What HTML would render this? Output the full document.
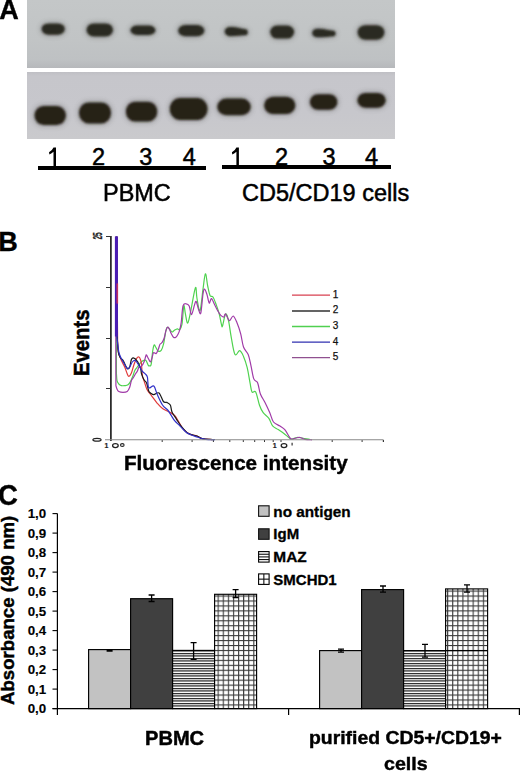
<!DOCTYPE html>
<html><head><meta charset="utf-8">
<style>
html,body{margin:0;padding:0;background:#fff;}
body{width:520px;height:771px;position:relative;overflow:hidden;font-family:"Liberation Sans",sans-serif;color:#000;}
.a{position:absolute;white-space:nowrap;line-height:1;}
.blot{position:absolute;left:27.2px;width:367.4px;}
</style></head><body>

<div class="blot" style="top:0;height:67.7px;background:linear-gradient(to bottom,#c4c7c8 0%,#c1c4c5 60%,#bec1c3 88%,#b6b8bb 100%);"></div>
<div class="blot" style="top:71.6px;height:67.6px;background:linear-gradient(to bottom,#bfbfc4 0%,#c6c6cb 6%,#c7c7cc 60%,#cacacd 100%);"></div>
<svg style="position:absolute;left:0;top:0" width="400" height="140" viewBox="0 0 400 140"><defs><filter id="bb" x="-20%" y="-40%" width="140%" height="180%"><feGaussianBlur stdDeviation="1.2"/></filter><filter id="bh" x="-30%" y="-60%" width="160%" height="220%"><feGaussianBlur stdDeviation="2.5"/></filter></defs><g fill="#3a3a36" opacity="0.3" filter="url(#bh)"><rect x="40.10" y="21.90" width="26.20" height="14.30" rx="7.86" ry="7.15"/><rect x="85.00" y="21.90" width="29.50" height="16.00" rx="8.26" ry="8.00"/><rect x="129.00" y="24.10" width="27.90" height="12.40" rx="8.20" ry="6.20"/><rect x="176.70" y="23.50" width="29.10" height="14.20" rx="8.15" ry="7.10"/><path d="M230.52,25.50 C237.35,25.50 242.18,28.06 244.18,28.06 A5.12,4.27 0 0 1 244.18,36.60 C242.18,36.60 237.35,37.70 230.52,37.70 A7.32,6.10 0 0 1 230.52,25.50 Z"/><rect x="268.70" y="24.10" width="26.90" height="16.00" rx="8.07" ry="8.00"/><path d="M317.60,27.20 C324.94,27.20 330.27,29.61 332.27,29.61 A4.83,4.02 0 0 1 332.27,37.66 C330.27,37.66 324.94,38.70 317.60,38.70 A6.90,5.75 0 0 1 317.60,27.20 Z"/><rect x="356.10" y="23.70" width="29.80" height="17.60" rx="8.94" ry="8.80"/><rect x="33.00" y="104.50" width="34.40" height="21.90" rx="10.32" ry="10.95"/><rect x="77.50" y="101.00" width="35.00" height="23.90" rx="10.50" ry="11.95"/><rect x="124.40" y="100.20" width="34.30" height="22.90" rx="10.29" ry="11.45"/><rect x="168.30" y="96.50" width="40.70" height="24.90" rx="11.40" ry="12.45"/><rect x="215.80" y="97.00" width="36.40" height="19.80" rx="10.19" ry="9.90"/><rect x="262.70" y="95.20" width="34.10" height="20.40" rx="10.23" ry="10.20"/><rect x="308.40" y="92.70" width="30.50" height="18.60" rx="9.15" ry="9.30"/><rect x="355.90" y="91.40" width="31.30" height="17.80" rx="9.39" ry="8.90"/></g><g fill="#2b2a20" filter="url(#bb)"><rect x="41.60" y="23.40" width="23.20" height="11.30" rx="6.96" ry="5.65"/><rect x="86.50" y="23.40" width="26.50" height="13.00" rx="7.42" ry="6.50"/><rect x="130.50" y="25.60" width="24.90" height="9.40" rx="6.70" ry="4.70"/><rect x="178.20" y="25.00" width="26.10" height="11.20" rx="7.31" ry="5.60"/><path d="M230.22,27.00 C237.08,27.00 241.94,28.93 243.94,28.93 A3.86,3.22 0 0 1 243.94,35.37 C241.94,35.37 237.08,36.20 230.22,36.20 A5.52,4.60 0 0 1 230.22,27.00 Z"/><rect x="270.20" y="25.60" width="23.90" height="13.00" rx="7.17" ry="6.50"/><path d="M317.30,28.70 C324.67,28.70 330.03,30.48 332.03,30.48 A3.57,2.97 0 0 1 332.03,36.43 C330.03,36.43 324.67,37.20 317.30,37.20 A5.10,4.25 0 0 1 317.30,28.70 Z"/><rect x="357.60" y="25.20" width="26.80" height="14.60" rx="8.04" ry="7.30"/></g><g fill="#262019" filter="url(#bb)"><rect x="34.50" y="106.00" width="31.40" height="18.90" rx="9.42" ry="9.45"/><rect x="79.00" y="102.50" width="32.00" height="20.90" rx="9.60" ry="10.45"/><rect x="125.90" y="101.70" width="31.30" height="19.90" rx="9.39" ry="9.95"/><rect x="169.80" y="98.00" width="37.70" height="21.90" rx="10.56" ry="10.95"/><rect x="217.30" y="98.50" width="33.40" height="16.80" rx="9.35" ry="8.40"/><rect x="264.20" y="96.70" width="31.10" height="17.40" rx="9.33" ry="8.70"/><rect x="309.90" y="94.20" width="27.50" height="15.60" rx="8.25" ry="7.80"/><rect x="357.40" y="92.90" width="28.30" height="14.80" rx="8.49" ry="7.40"/></g></svg>
<div style="position:absolute;left:37.5px;top:165.5px;width:168.2px;height:4px;background:#000;"></div>
<div style="position:absolute;left:222px;top:165.3px;width:168.89999999999998px;height:3.8px;background:#000;"></div>
<div class="a" style="left:-0.8px;top:-4.3px;font-size:27px;font-weight:bold;transform-origin:0 0;transform:scale(1,1.05);-webkit-text-stroke:0.4px #000;">A</div>
<div class="a" style="left:-1.7px;top:229px;font-size:27px;font-weight:bold;-webkit-text-stroke:0.4px #000;">B</div>
<div class="a" style="left:-2px;top:479.5px;font-size:27.5px;font-weight:bold;transform-origin:0 0;transform:scale(1,1.08);-webkit-text-stroke:0.4px #000;">C</div>
<div class="a" style="left:92.1px;top:146.4px;font-size:23.5px;-webkit-text-stroke:0.5px #000;">2</div>
<div class="a" style="left:139.3px;top:146.4px;font-size:23.5px;-webkit-text-stroke:0.5px #000;">3</div>
<div class="a" style="left:182.7px;top:146.4px;font-size:23.5px;-webkit-text-stroke:0.5px #000;">4</div>
<div class="a" style="left:274.9px;top:146.4px;font-size:23.5px;-webkit-text-stroke:0.5px #000;">2</div>
<div class="a" style="left:322.6px;top:146.4px;font-size:23.5px;-webkit-text-stroke:0.5px #000;">3</div>
<div class="a" style="left:365.1px;top:146.4px;font-size:23.5px;-webkit-text-stroke:0.5px #000;">4</div>
<div class="a" style="left:103.3px;top:182.3px;font-size:23.2px;transform-origin:0 0;transform:scale(1.012,1);-webkit-text-stroke:0.5px #000;">PBMC</div>
<div class="a" style="left:242px;top:182.3px;font-size:23.5px;-webkit-text-stroke:0.5px #000;">CD5/CD19 cells</div>
<div class="a" style="left:70px;top:375.5px;font-size:20.3px;font-weight:bold;transform-origin:0 0;transform:rotate(-90deg) scale(1,1.1);-webkit-text-stroke:0.45px #000;">Events</div>
<div class="a" style="left:124px;top:453px;font-size:20.5px;font-weight:bold;transform-origin:0 0;transform:scale(1.007,1);-webkit-text-stroke:0.45px #000;">Fluorescence intensity</div>
<div class="a" style="left:-1px;top:705px;font-size:18.63px;font-weight:bold;transform-origin:0 0;transform:rotate(-90deg);-webkit-text-stroke:0.45px #000;">Absorbance (490 nm)</div>
<div class="a" style="left:144.9px;top:729.4px;font-size:19.8px;font-weight:bold;transform-origin:0 0;transform:scale(1.015,1);-webkit-text-stroke:0.45px #000;">PBMC</div>
<div class="a" style="left:308.8px;top:728.4px;font-size:19px;font-weight:bold;transform-origin:0 0;transform:scale(1.02,1);-webkit-text-stroke:0.45px #000;">purified CD5+/CD19+</div>
<div class="a" style="left:383.8px;top:754.1px;font-size:19px;font-weight:bold;transform-origin:0 0;transform:scale(1.03,1);-webkit-text-stroke:0.45px #000;">cells</div>
<svg style="position:absolute;left:0;top:0" width="420" height="170"><path transform="translate(0,0)" d="M53.5,147.6 L56,147.6 L56,166 L53.5,166 L53.5,151.8 Q51.8,153.6 49.4,154.6 L49.0,152.3 Q52,151 53.5,147.6 Z" fill="#000"/></svg>
<svg style="position:absolute;left:0;top:0" width="420" height="170"><path transform="translate(182.9,0)" d="M53.5,147.6 L56,147.6 L56,166 L53.5,166 L53.5,151.8 Q51.8,153.6 49.4,154.6 L49.0,152.3 Q52,151 53.5,147.6 Z" fill="#000"/></svg>
<svg style="position:absolute;left:0;top:0" width="520" height="480" viewBox="0 0 520 480">
<line x1="162.2" y1="440" x2="162.2" y2="442" stroke="#333" stroke-width="1"/><line x1="192.1" y1="440" x2="192.1" y2="442" stroke="#333" stroke-width="1"/><line x1="213.4" y1="440" x2="213.4" y2="442" stroke="#333" stroke-width="1"/><line x1="229.8" y1="440" x2="229.8" y2="442" stroke="#333" stroke-width="1"/><line x1="243.3" y1="440" x2="243.3" y2="442" stroke="#333" stroke-width="1"/><line x1="254.7" y1="440" x2="254.7" y2="442" stroke="#333" stroke-width="1"/><line x1="264.5" y1="440" x2="264.5" y2="442" stroke="#333" stroke-width="1"/><line x1="273.2" y1="440" x2="273.2" y2="442" stroke="#333" stroke-width="1"/><line x1="281.0" y1="440" x2="281.0" y2="442" stroke="#333" stroke-width="1"/><line x1="332.2" y1="440" x2="332.2" y2="442" stroke="#333" stroke-width="1"/><line x1="362.1" y1="440" x2="362.1" y2="442" stroke="#333" stroke-width="1"/><line x1="383.4" y1="440" x2="383.4" y2="442" stroke="#333" stroke-width="1"/><line x1="383.4" y1="440" x2="383.4" y2="442" stroke="#333" stroke-width="1"/>
<line x1="110.9" y1="236" x2="110.9" y2="441" stroke="#151515" stroke-width="1.6"/>
<line x1="106" y1="236.5" x2="111" y2="236.5" stroke="#333" stroke-width="1"/>
<line x1="106" y1="287.5" x2="111" y2="287.5" stroke="#333" stroke-width="1"/>
<line x1="106" y1="338.5" x2="111" y2="338.5" stroke="#333" stroke-width="1"/>
<line x1="106" y1="388.5" x2="111" y2="388.5" stroke="#333" stroke-width="1"/>
<path fill="none" stroke="#4fd24f" stroke-width="1.2" stroke-linejoin="round" d="M116.20,236.50 L116.40,373.00 C116.50,374.27 116.60,378.77 117.00,380.60 C117.40,382.43 118.08,383.17 118.80,384.00 C119.52,384.83 120.32,385.33 121.30,385.60 C122.28,385.87 123.58,385.73 124.70,385.60 C125.82,385.47 127.02,385.50 128.00,384.80 C128.98,384.10 129.75,382.95 130.60,381.40 C131.45,379.85 132.40,377.33 133.10,375.50 C133.80,373.67 134.10,371.82 134.80,370.40 C135.50,368.98 136.47,368.12 137.30,367.00 C138.13,365.88 138.93,364.70 139.80,363.70 C140.67,362.70 141.50,361.57 142.50,361.00 C143.50,360.43 144.83,359.57 145.80,360.30 C146.77,361.03 147.67,364.48 148.30,365.40 C148.93,366.32 149.12,366.00 149.60,365.80 C150.08,365.60 150.68,366.67 151.20,364.20 C151.72,361.73 152.20,354.20 152.70,351.00 C153.20,347.80 153.68,345.62 154.20,345.00 C154.72,344.38 155.17,346.30 155.80,347.30 C156.43,348.30 157.10,350.48 158.00,351.00 C158.90,351.52 160.28,351.53 161.20,350.40 C162.12,349.27 162.73,347.40 163.50,344.20 C164.27,341.00 165.17,334.02 165.80,331.20 C166.43,328.38 166.68,327.67 167.30,327.30 C167.92,326.93 168.72,328.22 169.50,329.00 C170.28,329.78 171.22,331.77 172.00,332.00 C172.78,332.23 173.32,330.93 174.20,330.40 C175.08,329.87 176.40,328.93 177.30,328.80 C178.20,328.67 178.82,330.37 179.60,329.60 C180.38,328.83 181.30,328.13 182.00,324.20 C182.70,320.27 183.23,307.73 183.80,306.00 C184.37,304.27 184.75,310.97 185.40,313.80 C186.05,316.63 186.80,323.50 187.70,323.00 C188.60,322.50 189.52,316.68 190.80,310.80 C192.08,304.92 194.37,289.75 195.40,287.70 C196.43,285.65 196.23,294.65 197.00,298.50 C197.77,302.35 199.00,312.35 200.00,310.80 C201.00,309.25 202.10,295.37 203.00,289.20 C203.90,283.03 204.62,274.33 205.40,273.80 C206.18,273.27 206.93,282.40 207.70,286.00 C208.47,289.60 209.12,293.57 210.00,295.40 C210.88,297.23 211.97,295.47 213.00,297.00 C214.03,298.53 215.17,301.80 216.20,304.60 C217.23,307.40 218.32,310.47 219.20,313.80 C220.08,317.13 220.95,322.57 221.50,324.60 C222.05,326.63 221.82,327.77 222.50,326.00 C223.18,324.23 224.60,314.88 225.60,314.00 C226.60,313.12 227.55,316.77 228.50,320.70 C229.45,324.63 230.22,331.97 231.30,337.60 C232.38,343.23 233.60,352.32 235.00,354.50 C236.40,356.68 238.28,350.38 239.70,350.70 C241.12,351.02 242.25,353.58 243.50,356.40 C244.75,359.22 246.12,363.22 247.20,367.60 C248.28,371.98 249.20,378.63 250.00,382.70 C250.80,386.77 251.05,390.45 252.00,392.00 C252.95,393.55 254.45,389.80 255.70,392.00 C256.95,394.20 258.25,401.75 259.50,405.20 C260.75,408.65 261.63,410.50 263.20,412.70 C264.77,414.90 267.33,416.20 268.90,418.40 C270.47,420.60 271.05,424.03 272.60,425.90 C274.15,427.77 276.32,428.35 278.20,429.60 C280.08,430.85 282.02,432.00 283.90,433.40 C285.78,434.80 288.15,437.07 289.50,438.00 C290.85,438.93 290.75,439.08 292.00,439.00 C293.25,438.92 295.33,437.67 297.00,437.50 C298.67,437.33 299.83,437.67 302.00,438.00 C304.17,438.33 308.67,439.25 310.00,439.50"/>
<path fill="none" stroke="#e03a3a" stroke-width="1.2" stroke-linejoin="round" d="M117.00,236.50 L117.00,283.00 C117.05,286.17 117.20,292.50 117.30,302.00 C117.40,311.50 117.43,331.68 117.60,340.00 C117.77,348.32 117.68,348.52 118.30,351.90 C118.92,355.28 120.23,357.78 121.30,360.30 C122.37,362.82 123.72,364.75 124.70,367.00 C125.68,369.25 126.50,372.23 127.20,373.80 C127.90,375.37 128.20,376.53 128.90,376.40 C129.60,376.27 130.55,374.98 131.40,373.00 C132.25,371.02 133.15,366.90 134.00,364.50 C134.85,362.10 135.67,359.85 136.50,358.60 C137.33,357.35 138.30,356.72 139.00,357.00 C139.70,357.28 140.28,359.05 140.70,360.30 C141.12,361.55 141.22,361.97 141.50,364.50 C141.78,367.03 141.98,372.82 142.40,375.50 C142.82,378.18 143.23,378.28 144.00,380.60 C144.77,382.92 145.67,386.78 147.00,389.40 C148.33,392.02 150.28,393.98 152.00,396.30 C153.72,398.62 155.55,401.27 157.30,403.30 C159.05,405.33 160.48,407.05 162.50,408.50 C164.52,409.95 167.38,410.85 169.40,412.00 C171.42,413.15 173.17,413.97 174.60,415.40 C176.03,416.83 176.55,418.30 178.00,420.60 C179.45,422.90 181.27,426.90 183.30,429.20 C185.33,431.50 187.92,433.27 190.20,434.40 C192.48,435.53 194.98,435.28 197.00,436.00 C199.02,436.72 199.80,438.10 202.30,438.70 C204.80,439.30 210.38,439.45 212.00,439.60"/>
<path fill="none" stroke="#1a1a1a" stroke-width="1.2" stroke-linejoin="round" d="M116.80,236.50 L117.10,335.00 C117.30,337.82 117.75,348.10 118.30,351.90 C118.85,355.70 119.62,356.40 120.40,357.80 C121.18,359.20 122.28,359.32 123.00,360.30 C123.72,361.28 124.15,362.58 124.70,363.70 C125.25,364.82 125.75,366.15 126.30,367.00 C126.85,367.85 127.43,368.80 128.00,368.80 C128.57,368.80 129.13,368.55 129.70,367.00 C130.27,365.45 130.83,361.03 131.40,359.50 C131.97,357.97 132.53,357.95 133.10,357.80 C133.67,357.65 134.23,358.18 134.80,358.60 C135.37,359.02 135.93,359.60 136.50,360.30 C137.07,361.00 137.50,361.38 138.20,362.80 C138.90,364.22 140.15,366.97 140.70,368.80 C141.25,370.63 140.95,371.98 141.50,373.80 C142.05,375.62 143.15,378.15 144.00,379.70 C144.85,381.25 145.82,381.22 146.60,383.10 C147.38,384.98 148.00,389.32 148.70,391.00 C149.40,392.68 149.95,392.60 150.80,393.20 C151.65,393.80 152.43,394.63 153.80,394.60 C155.17,394.57 157.40,391.85 159.00,393.00 C160.60,394.15 162.10,399.93 163.40,401.50 C164.70,403.07 165.65,401.82 166.80,402.40 C167.95,402.98 169.43,403.40 170.30,405.00 C171.17,406.60 171.00,409.70 172.00,412.00 C173.00,414.30 174.72,416.37 176.30,418.80 C177.88,421.23 179.47,424.13 181.50,426.60 C183.53,429.07 185.92,432.03 188.50,433.60 C191.08,435.17 194.70,435.15 197.00,436.00 C199.30,436.85 199.68,438.10 202.30,438.70 C204.92,439.30 210.97,439.45 212.70,439.60"/>
<path fill="none" stroke="#a03aa8" stroke-width="1.2" stroke-linejoin="round" d="M115.60,236.50 L115.90,385.60 C116.08,386.17 116.52,388.02 117.00,389.00 C117.48,389.98 117.80,390.93 118.80,391.50 C119.80,392.07 121.60,392.40 123.00,392.40 C124.40,392.40 126.08,392.35 127.20,391.50 C128.32,390.65 129.00,389.12 129.70,387.30 C130.40,385.48 130.83,382.15 131.40,380.60 C131.97,379.05 132.40,379.13 133.10,378.00 C133.80,376.87 134.90,374.92 135.60,373.80 C136.30,372.68 136.73,372.43 137.30,371.30 C137.87,370.17 138.30,367.85 139.00,367.00 C139.70,366.15 140.67,367.03 141.50,366.20 C142.33,365.37 143.28,363.70 144.00,362.00 C144.72,360.30 145.38,357.17 145.80,356.00 C146.22,354.83 146.05,354.53 146.50,355.00 C146.95,355.47 147.85,357.63 148.50,358.80 C149.15,359.97 149.82,362.13 150.40,362.00 C150.98,361.87 151.48,359.55 152.00,358.00 C152.52,356.45 152.80,353.45 153.50,352.70 C154.20,351.95 155.37,354.15 156.20,353.50 C157.03,352.85 157.87,350.35 158.50,348.80 C159.13,347.25 159.42,345.22 160.00,344.20 C160.58,343.18 161.30,343.73 162.00,342.70 C162.70,341.67 163.57,339.92 164.20,338.00 C164.83,336.08 165.28,332.98 165.80,331.20 C166.32,329.42 166.80,327.83 167.30,327.30 C167.80,326.77 168.15,326.97 168.80,328.00 C169.45,329.03 170.42,331.95 171.20,333.50 C171.98,335.05 172.73,336.67 173.50,337.30 C174.27,337.93 175.05,337.82 175.80,337.30 C176.55,336.78 177.37,335.35 178.00,334.20 C178.63,333.05 179.07,332.32 179.60,330.40 C180.13,328.48 180.63,326.77 181.20,322.70 C181.77,318.63 182.17,309.15 183.00,306.00 C183.83,302.85 185.17,303.80 186.20,303.80 C187.23,303.80 188.32,304.20 189.20,306.00 C190.08,307.80 190.60,314.83 191.50,314.60 C192.40,314.37 193.82,306.78 194.60,304.60 C195.38,302.42 195.55,300.73 196.20,301.50 C196.85,302.27 197.73,307.28 198.50,309.20 C199.27,311.12 200.05,315.57 200.80,313.00 C201.55,310.43 202.37,297.77 203.00,293.80 C203.63,289.83 203.93,289.07 204.60,289.20 C205.27,289.33 206.23,292.30 207.00,294.60 C207.77,296.90 208.45,302.35 209.20,303.00 C209.95,303.65 210.60,298.23 211.50,298.50 C212.40,298.77 213.57,302.55 214.60,304.60 C215.63,306.65 216.67,309.00 217.70,310.80 C218.73,312.60 219.78,314.37 220.80,315.40 C221.82,316.43 223.00,317.23 223.80,317.00 C224.60,316.77 224.67,313.38 225.60,314.00 C226.53,314.62 228.13,320.37 229.40,320.70 C230.67,321.03 231.95,315.70 233.20,316.00 C234.45,316.30 235.65,319.53 236.90,322.50 C238.15,325.47 239.60,329.72 240.70,333.80 C241.80,337.88 242.25,343.55 243.50,347.00 C244.75,350.45 246.95,351.37 248.20,354.50 C249.45,357.63 250.07,361.73 251.00,365.80 C251.93,369.87 252.70,376.08 253.80,378.90 C254.90,381.72 256.50,380.18 257.60,382.70 C258.70,385.22 259.17,390.72 260.40,394.00 C261.63,397.28 263.43,399.28 265.00,402.40 C266.57,405.52 268.38,409.43 269.80,412.70 C271.22,415.97 271.80,419.78 273.50,422.00 C275.20,424.22 278.12,424.73 280.00,426.00 C281.88,427.27 283.22,427.73 284.80,429.60 C286.38,431.47 288.40,435.63 289.50,437.20 C290.60,438.77 290.32,438.87 291.40,439.00 C292.48,439.13 294.57,438.25 296.00,438.00 C297.43,437.75 298.50,437.28 300.00,437.50 C301.50,437.72 303.00,438.92 305.00,439.30 C307.00,439.68 310.83,439.72 312.00,439.80"/>
<path fill="none" stroke="#3030c8" stroke-width="1.2" stroke-linejoin="round" d="M116.60,236.50 L116.90,337.00 C117.22,339.48 118.07,348.30 118.80,351.90 C119.53,355.50 120.32,356.50 121.30,358.60 C122.28,360.70 123.72,362.80 124.70,364.50 C125.68,366.20 126.37,368.38 127.20,368.80 C128.03,369.22 128.85,368.13 129.70,367.00 C130.55,365.87 131.45,363.12 132.30,362.00 C133.15,360.88 133.97,360.17 134.80,360.30 C135.63,360.43 136.47,361.68 137.30,362.80 C138.13,363.92 138.95,365.58 139.80,367.00 C140.65,368.42 141.50,370.17 142.40,371.30 C143.30,372.43 144.37,372.82 145.20,373.80 C146.03,374.78 146.82,374.88 147.40,377.20 C147.98,379.52 147.63,386.23 148.70,387.70 C149.77,389.17 152.37,384.85 153.80,386.00 C155.23,387.15 155.85,391.43 157.30,394.60 C158.75,397.77 160.77,402.43 162.50,405.00 C164.23,407.57 166.25,408.27 167.70,410.00 C169.15,411.73 170.05,413.63 171.20,415.40 C172.35,417.17 173.17,418.87 174.60,420.60 C176.03,422.33 177.78,423.78 179.80,425.80 C181.82,427.82 183.83,430.83 186.70,432.70 C189.57,434.57 193.82,435.90 197.00,437.00 C200.18,438.10 202.80,438.87 205.80,439.30 C208.80,439.73 213.47,439.55 215.00,439.60"/>
<line x1="105" y1="439.8" x2="383.5" y2="439.8" stroke="#888" stroke-width="1.1"/>
<rect x="114.9" y="236.5" width="3.0" height="100" fill="#4a1cb4"/>
<rect x="116.5" y="283.4" width="1.6" height="20.2" fill="#c3305e"/>
<line x1="292" y1="295.2" x2="330" y2="295.2" stroke="#d84050" stroke-width="1.3"/>
<line x1="292" y1="311" x2="330" y2="311" stroke="#303030" stroke-width="1.3"/>
<line x1="292" y1="326.5" x2="330" y2="326.5" stroke="#50d050" stroke-width="1.3"/>
<line x1="292" y1="342.1" x2="330" y2="342.1" stroke="#3030b0" stroke-width="1.3"/>
<line x1="292" y1="357.7" x2="330" y2="357.7" stroke="#905090" stroke-width="1.3"/>
<g font-family="Liberation Sans" font-size="10" fill="#111" stroke="#111" stroke-width="0.25">
<text x="332.8" y="297.6">1</text><text x="332.8" y="313.4">2</text><text x="332.8" y="328.9">3</text><text x="332.8" y="344.5">4</text><text x="332.8" y="360.1">5</text>
</g>
<g fill="#222" stroke="#222">
<text x="104.6" y="448.4" font-family="Liberation Sans" font-weight="bold" font-size="7" stroke-width="0.2">1</text>
<ellipse cx="115.4" cy="445.6" rx="2.8" ry="2.0" fill="none" stroke-width="1.3"/>
<ellipse cx="122.3" cy="445" rx="1.8" ry="1.4" fill="none" stroke-width="1.1"/>
<text x="272.8" y="448.2" font-family="Liberation Sans" font-weight="bold" font-size="7" stroke-width="0.2">1</text>
<ellipse cx="284" cy="445.6" rx="2.8" ry="2.0" fill="none" stroke-width="1.3"/>
<line x1="292.1" y1="442.8" x2="292.1" y2="445.6" stroke-width="1.1"/>
<ellipse cx="97" cy="439.7" rx="4.1" ry="1.4" fill="none" stroke-width="1.2"/>
<text transform="translate(101.8,239.6) rotate(-90) scale(0.5,1)" font-family="Liberation Sans" font-weight="bold" font-size="13" stroke-width="0.3">25</text>
</g>
</svg>
<svg style="position:absolute;left:0;top:480px" width="520" height="291" viewBox="0 480 520 291">
<defs>
<pattern id="ph" patternUnits="userSpaceOnUse" x="0" y="0.4" width="8" height="2.5"><rect width="8" height="2.5" fill="#fff"/><rect y="0" width="8" height="1.15" fill="#111"/></pattern>
<pattern id="pg" patternUnits="userSpaceOnUse" x="3.4" y="1.5" width="5.1" height="4.95"><rect width="5.1" height="4.95" fill="#fff"/><rect x="0" y="0" width="1.1" height="4.95" fill="#3a3a3a"/><rect x="0" y="0" width="5.1" height="1.1" fill="#3a3a3a"/></pattern>
</defs>
<rect x="88.6" y="649.6" width="42" height="59.00" fill="#c2c2c2" stroke="#000" stroke-width="1.15"/>
<rect x="130.6" y="598.7" width="42" height="109.90" fill="#404040" stroke="#000" stroke-width="1.15"/>
<rect x="172.6" y="650.4" width="42" height="58.20" fill="url(#ph)" stroke="#000" stroke-width="1.15"/>
<rect x="214.6" y="594.3" width="42" height="114.30" fill="url(#pg)" stroke="#000" stroke-width="1.15"/>
<rect x="319.6" y="650.6" width="42" height="58.00" fill="#c2c2c2" stroke="#000" stroke-width="1.15"/>
<rect x="361.6" y="589.6" width="42" height="119.00" fill="#404040" stroke="#000" stroke-width="1.15"/>
<rect x="403.6" y="650.6" width="42" height="58.00" fill="url(#ph)" stroke="#000" stroke-width="1.15"/>
<rect x="445.6" y="588.9" width="42" height="119.70" fill="url(#pg)" stroke="#000" stroke-width="1.15"/>
<path d="M106.6,649.8H112.6M109.6,649.8V651.2M106.6,651.2H112.6" stroke="#000" stroke-width="1.3" fill="none"/>
<path d="M148.6,595H154.6M151.6,595V601.5M148.6,601.5H154.6" stroke="#000" stroke-width="1.3" fill="none"/>
<path d="M190.6,642.7H196.6M193.6,642.7V659.3M190.6,659.3H196.6" stroke="#000" stroke-width="1.3" fill="none"/>
<path d="M232.6,589.7H238.6M235.6,589.7V597.5M232.6,597.5H238.6" stroke="#000" stroke-width="1.3" fill="none"/>
<path d="M338,649.2H344M341,649.2V652.1M338,652.1H344" stroke="#000" stroke-width="1.3" fill="none"/>
<path d="M380,586H386M383,586V592.2M380,592.2H386" stroke="#000" stroke-width="1.3" fill="none"/>
<path d="M422,644.4H428M425,644.4V657.2M422,657.2H428" stroke="#000" stroke-width="1.3" fill="none"/>
<path d="M464,584.9H470M467,584.9V592.2M464,592.2H470" stroke="#000" stroke-width="1.3" fill="none"/>
<line x1="445.6" y1="650.6" x2="487.6" y2="650.6" stroke="#000" stroke-width="1.2"/>
<line x1="57.4" y1="513.6" x2="57.4" y2="715" stroke="#000" stroke-width="1.2"/>
<line x1="52.5" y1="708.6" x2="520" y2="708.6" stroke="#000" stroke-width="1.2"/>
<line x1="52.5" y1="708.60" x2="57.4" y2="708.60" stroke="#000" stroke-width="1.1"/>
<line x1="52.5" y1="689.10" x2="57.4" y2="689.10" stroke="#000" stroke-width="1.1"/>
<line x1="52.5" y1="669.60" x2="57.4" y2="669.60" stroke="#000" stroke-width="1.1"/>
<line x1="52.5" y1="650.10" x2="57.4" y2="650.10" stroke="#000" stroke-width="1.1"/>
<line x1="52.5" y1="630.60" x2="57.4" y2="630.60" stroke="#000" stroke-width="1.1"/>
<line x1="52.5" y1="611.10" x2="57.4" y2="611.10" stroke="#000" stroke-width="1.1"/>
<line x1="52.5" y1="591.60" x2="57.4" y2="591.60" stroke="#000" stroke-width="1.1"/>
<line x1="52.5" y1="572.10" x2="57.4" y2="572.10" stroke="#000" stroke-width="1.1"/>
<line x1="52.5" y1="552.60" x2="57.4" y2="552.60" stroke="#000" stroke-width="1.1"/>
<line x1="52.5" y1="533.10" x2="57.4" y2="533.10" stroke="#000" stroke-width="1.1"/>
<line x1="52.5" y1="513.60" x2="57.4" y2="513.60" stroke="#000" stroke-width="1.1"/>
<line x1="288.6" y1="708.6" x2="288.6" y2="715" stroke="#000" stroke-width="1.2"/>
<line x1="519.4" y1="708.6" x2="519.4" y2="715" stroke="#000" stroke-width="1.2"/>
<text transform="translate(46.2,713.40) scale(1.06,1)" text-anchor="end" font-family="Liberation Sans" font-weight="bold" font-size="12.6" stroke="#000" stroke-width="0.12">0,0</text>
<text transform="translate(46.2,693.90) scale(1.06,1)" text-anchor="end" font-family="Liberation Sans" font-weight="bold" font-size="12.6" stroke="#000" stroke-width="0.12">0,1</text>
<text transform="translate(46.2,674.40) scale(1.06,1)" text-anchor="end" font-family="Liberation Sans" font-weight="bold" font-size="12.6" stroke="#000" stroke-width="0.12">0,2</text>
<text transform="translate(46.2,654.90) scale(1.06,1)" text-anchor="end" font-family="Liberation Sans" font-weight="bold" font-size="12.6" stroke="#000" stroke-width="0.12">0,3</text>
<text transform="translate(46.2,635.40) scale(1.06,1)" text-anchor="end" font-family="Liberation Sans" font-weight="bold" font-size="12.6" stroke="#000" stroke-width="0.12">0,4</text>
<text transform="translate(46.2,615.90) scale(1.06,1)" text-anchor="end" font-family="Liberation Sans" font-weight="bold" font-size="12.6" stroke="#000" stroke-width="0.12">0,5</text>
<text transform="translate(46.2,596.40) scale(1.06,1)" text-anchor="end" font-family="Liberation Sans" font-weight="bold" font-size="12.6" stroke="#000" stroke-width="0.12">0,6</text>
<text transform="translate(46.2,576.90) scale(1.06,1)" text-anchor="end" font-family="Liberation Sans" font-weight="bold" font-size="12.6" stroke="#000" stroke-width="0.12">0,7</text>
<text transform="translate(46.2,557.40) scale(1.06,1)" text-anchor="end" font-family="Liberation Sans" font-weight="bold" font-size="12.6" stroke="#000" stroke-width="0.12">0,8</text>
<text transform="translate(46.2,537.90) scale(1.06,1)" text-anchor="end" font-family="Liberation Sans" font-weight="bold" font-size="12.6" stroke="#000" stroke-width="0.12">0,9</text>
<text transform="translate(46.2,518.40) scale(1.06,1)" text-anchor="end" font-family="Liberation Sans" font-weight="bold" font-size="12.6" stroke="#000" stroke-width="0.12">1,0</text>
<rect x="258.6" y="505.8" width="10.5" height="10.5" fill="#c2c2c2" stroke="#111" stroke-width="1.1"/>
<text transform="translate(273.3,516.6) scale(1.02,1)" font-family="Liberation Sans" font-weight="bold" font-size="15" stroke="#000" stroke-width="0.3">no antigen</text>
<rect x="258.6" y="528.8" width="10.5" height="10.5" fill="#404040" stroke="#111" stroke-width="1.1"/>
<text transform="translate(273.3,538.6) scale(1.0,1)" font-family="Liberation Sans" font-weight="bold" font-size="15" stroke="#000" stroke-width="0.3">IgM</text>
<rect x="258.6" y="551.6" width="10.5" height="10.5" fill="#fff" stroke="#000" stroke-width="1.1"/>
<line x1="258.6" x2="269.1" y1="554.25" y2="554.25" stroke="#111" stroke-width="1.1"/>
<line x1="258.6" x2="269.1" y1="556.90" y2="556.90" stroke="#111" stroke-width="1.1"/>
<line x1="258.6" x2="269.1" y1="559.55" y2="559.55" stroke="#111" stroke-width="1.1"/>
<text transform="translate(273.3,562.3) scale(1.03,1)" font-family="Liberation Sans" font-weight="bold" font-size="15" stroke="#000" stroke-width="0.3">MAZ</text>
<rect x="258.6" y="573.9" width="10.5" height="10.5" fill="#fff" stroke="#000" stroke-width="1.1"/>
<line x1="263.85" x2="263.85" y1="573.9" y2="584.4" stroke="#111" stroke-width="1.1"/>
<line x1="258.6" x2="269.1" y1="579.15" y2="579.15" stroke="#111" stroke-width="1.1"/>
<text transform="translate(273.3,585.2) scale(1.0,1)" font-family="Liberation Sans" font-weight="bold" font-size="15" stroke="#000" stroke-width="0.3">SMCHD1</text>
</svg>
</body></html>
